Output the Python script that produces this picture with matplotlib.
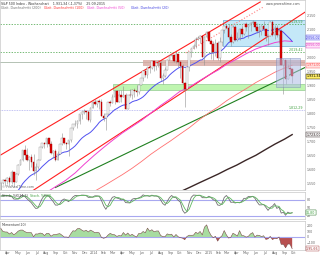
import numpy as np
import pandas as pd
import matplotlib
matplotlib.use("Agg")
import matplotlib.pyplot as plt
import matplotlib.transforms as mtrans

# weekly S&P 500 candles (first 20 weeks only feed the indicators, they sit left of the view)
weeks = pd.date_range("2012-10-19", periods=154, freq="W-FRI")

opens = [1428, 1433, 1412, 1414, 1380, 1359, 1409, 1416, 1418, 1413, 1430, 1402, 1466, 1472, 1486, 1503, 1513, 1518, 1520, 1516,
         1518, 1551, 1560, 1556, 1569, 1553, 1588, 1555, 1582, 1614, 1633, 1667, 1650, 1631, 1643, 1626, 1593, 1606, 1632, 1680,
         1692, 1691, 1710, 1691, 1656, 1664, 1633, 1655, 1688, 1710, 1692, 1691, 1703, 1745, 1760, 1762, 1771, 1798, 1804, 1806,
         1805, 1775, 1818,
         1841, 1831, 1842, 1839, 1790, 1783, 1797, 1838, 1836, 1859, 1878, 1841, 1866, 1857, 1865, 1815, 1864, 1863, 1881, 1878,
         1877, 1900, 1924, 1949, 1936, 1963, 1961, 1985, 1968, 1978, 1978, 1925, 1931, 1955, 1988, 2003, 2008, 1985, 2010, 1982,
         1967, 1906, 1886, 1964, 2018, 2032, 2039, 2064, 2068, 2075, 2002, 2071,
         2089, 2058, 2045, 2019, 2051, 1995, 2055, 2097, 2110, 2105, 2071, 2053, 2108, 2061, 2067, 2102, 2081, 2117, 2108, 2116,
         2123, 2126, 2107, 2092, 2094, 2110, 2102, 2077, 2077, 2127, 2080, 2104, 2078, 2092, 1971, 1989, 1921, 1961, 1958]
highs = [1465, 1437, 1434, 1434, 1389, 1409, 1419, 1424, 1438, 1448, 1430, 1467, 1473, 1486, 1503, 1514, 1518, 1524, 1530, 1525,
         1552, 1564, 1563, 1570, 1574, 1597, 1589, 1587, 1618, 1635, 1667, 1687, 1674, 1646, 1654, 1654, 1620, 1635, 1680, 1693,
         1698, 1710, 1710, 1699, 1669, 1670, 1664, 1689, 1730, 1711, 1698, 1704, 1745, 1760, 1775, 1774, 1798, 1808, 1813, 1806,
         1811, 1823, 1844,
         1849, 1843, 1850, 1850, 1799, 1798, 1841, 1847, 1867, 1883, 1883, 1884, 1882, 1897, 1873, 1865, 1885, 1885, 1889, 1902,
         1901, 1924, 1949, 1955, 1964, 1968, 1986, 1985, 1984, 1991, 1985, 1943, 1964, 1993, 2006, 2011, 2009, 2019, 2010, 1985,
         1977, 1912, 1965, 2018, 2034, 2046, 2071, 2076, 2079, 2077, 2077, 2094,
         2093, 2064, 2057, 2064, 2057, 2072, 2097, 2110, 2119, 2118, 2083, 2114, 2116, 2089, 2103, 2111, 2120, 2126, 2117, 2124,
         2134, 2126, 2121, 2115, 2115, 2130, 2102, 2078, 2130, 2132, 2114, 2113, 2103, 2102, 1993, 1989, 1976, 1996, 1960]
lows = [1426, 1403, 1403, 1373, 1343, 1359, 1385, 1398, 1411, 1413, 1398, 1401, 1451, 1463, 1484, 1494, 1495, 1510, 1485, 1485,
        1501, 1547, 1538, 1547, 1539, 1548, 1536, 1554, 1577, 1613, 1627, 1635, 1630, 1598, 1608, 1577, 1560, 1600, 1631, 1675,
        1676, 1680, 1684, 1654, 1639, 1628, 1633, 1655, 1685, 1688, 1670, 1646, 1698, 1740, 1752, 1746, 1760, 1780, 1797, 1779,
        1772, 1767, 1818,
        1827, 1823, 1815, 1790, 1770, 1738, 1792, 1824, 1836, 1834, 1839, 1839, 1841, 1857, 1814, 1815, 1859, 1850, 1859, 1862,
        1868, 1900, 1915, 1930, 1925, 1944, 1958, 1952, 1955, 1964, 1916, 1904, 1928, 1954, 1988, 1994, 1983, 1978, 1964, 1926,
        1905, 1821, 1886, 1951, 2001, 2030, 2034, 2062, 2050, 2002, 1972, 2069,
        2057, 1992, 1988, 2005, 1989, 1981, 2041, 2086, 2103, 2066, 2040, 2049, 2056, 2057, 2062, 2073, 2080, 2095, 2067, 2093,
        2117, 2099, 2086, 2072, 2080, 2100, 2057, 2044, 2077, 2077, 2063, 2072, 2052, 1971, 1867, 1903, 1921, 1938, 1909]
closes = [1433, 1412, 1414, 1380, 1359, 1409, 1416, 1418, 1413, 1430, 1402, 1466, 1472, 1486, 1503, 1513, 1518, 1520, 1516, 1518,
          1551, 1560, 1556, 1569, 1553, 1588, 1555, 1582, 1614, 1633, 1667, 1650, 1631, 1643, 1626, 1593, 1606, 1632, 1680, 1692,
          1691, 1710, 1691, 1656, 1664, 1633, 1655, 1688, 1710, 1692, 1691, 1703, 1745, 1760, 1762, 1771, 1798, 1804, 1806, 1805,
          1775, 1818, 1841,
          1831, 1842, 1839, 1790, 1783, 1797, 1838, 1836, 1859, 1878, 1841, 1866, 1857, 1865, 1815, 1864, 1863, 1881, 1878, 1877,
          1900, 1924, 1949, 1936, 1963, 1961, 1985, 1968, 1978, 1978, 1925, 1931, 1955, 1988, 2003, 2008, 1985, 2010, 1982, 1967,
          1906, 1886, 1964, 2018, 2032, 2039, 2064, 2068, 2075, 2002, 2071, 2089,
          2058, 2045, 2019, 2051, 1995, 2055, 2097, 2110, 2105, 2071, 2053, 2108, 2061, 2067, 2102, 2081, 2117, 2108, 2116, 2123,
          2126, 2107, 2092, 2094, 2110, 2102, 2077, 2077, 2127, 2080, 2104, 2078, 2092, 1971, 1989, 1921, 1961, 1958, 1931.34]

# long moving averages (monthly points)
gd50_dates = list(pd.date_range("2013-06-01", periods=28, freq="MS")) + [pd.Timestamp("2015-09-25")]
gd50 = [1467, 1491, 1516, 1538, 1559, 1586, 1618, 1649, 1678, 1703, 1729, 1751, 1774, 1800, 1827, 1851, 1877, 1893,
        1914, 1935, 1954, 1975, 1993, 2012, 2029, 2041, 2052, 2058, 2056]
gd100_dates = list(pd.date_range("2013-12-01", periods=22, freq="MS")) + [pd.Timestamp("2015-09-25")]
gd100 = [1498, 1520, 1540, 1559, 1580, 1602, 1627, 1653, 1677, 1700, 1724, 1748, 1775, 1800, 1822, 1845, 1867, 1887,
         1909, 1927, 1946, 1961, 1971]
gd200_dates = list(pd.date_range("2014-09-01", periods=13, freq="MS")) + [pd.Timestamp("2015-09-25")]
gd200 = [1501, 1518, 1534, 1550, 1566, 1582, 1598, 1614, 1632, 1649, 1669, 1689, 1707, 1723]

# trend lines (start/end)
upper_channel = (["2013-03-08", "2015-06-15"], [1650, 2197])
upper_dotted = (["2014-10-20", "2015-06-25"], [2015, 2179])
mid_channel = (["2013-06-11", "2015-11-11"], [1517, 2165])
green_trend = (["2013-08-30", "2015-11-11"], [1534, 1966])

# horizontal levels and zones
green_levels = [2119.59, 2019.42]
blue_level = 1812.29
grey_level = 1982
brown_zone = ("2014-06-05", 1968, 1988)
green_zone = ("2014-03-03", 1882, 1904)
blue_box = ("2015-02-16", "2015-11-05", 2039, 2132)
grey_box = ("2015-08-04", "2015-10-20", 1893, 1996)

df = pd.DataFrame({"open": opens, "high": highs, "low": lows, "close": closes}, index=weeks)
gd20 = df["close"].rolling(20).mean()
ll = df["low"].rolling(14).min()
hh = df["high"].rolling(14).max()
stoch_k = ((df["close"] - ll) / (hh - ll) * 100).rolling(3).mean()
stoch_d = stoch_k.rolling(3).mean()
mom = df["close"] - df["close"].shift(10)


def de(v, d=0):
    s = f"{v:,.{d}f}"
    return s.replace(",", "#").replace(".", ",").replace("#", ".")


xmin, xmax = pd.Timestamp("2013-03-06"), pd.Timestamp("2015-11-05")
fs = 2.3
grey = "#666666"

fig = plt.figure(figsize=(3.2, 2.56), dpi=100)
ax = fig.add_axes([0, 1 - 190 / 256, 305 / 320, 190 / 256])
ax_s = fig.add_axes([0, 1 - 219 / 256, 305 / 320, 27 / 256])
ax_m = fig.add_axes([0, 1 - 250 / 256, 305 / 320, 29 / 256])

for a in (ax, ax_s, ax_m):
    a.set_xlim(xmin, xmax)
    for sp in a.spines.values():
        sp.set_color("#c8c8c8")
        sp.set_linewidth(0.5)
    a.yaxis.tick_right()
    a.tick_params(axis="y", labelsize=fs, pad=1.5, length=0, colors=grey)
    a.tick_params(axis="x", length=0)

# ---- main panel
ax.set_ylim(1525, 2204)
price_ticks = list(range(1550, 2151, 50))
ax.set_yticks(price_ticks)
# 2.050 sits under the MA tags on the price scale
ax.set_yticklabels(["" if v == 2050 else de(v) for v in price_ticks])
ax.set_xticklabels([])

trans = mtrans.blended_transform_factory(ax.transAxes, ax.transData)

ax.axhline(grey_level, color="#a8b8a8", lw=0.6, zorder=1)
ax.fill_between([pd.Timestamp(brown_zone[0]), xmax], brown_zone[1], brown_zone[2],
                color="#d8a8a0", alpha=0.8, lw=0, zorder=1)
ax.fill_between([pd.Timestamp(green_zone[0]), xmax], green_zone[1], green_zone[2],
                facecolor="#bff5b0", edgecolor="#80c080", lw=0.4, zorder=1)
ax.fill_between([pd.Timestamp(blue_box[0]), pd.Timestamp(blue_box[1])], blue_box[2], blue_box[3],
                facecolor="#c4e8f8", edgecolor="#70aad0", lw=0.5, zorder=0.5)
ax.fill_between([pd.Timestamp(grey_box[0]), pd.Timestamp(grey_box[1])], grey_box[2], grey_box[3],
                facecolor="#aebce4", edgecolor="#7080b8", alpha=0.55, lw=0.5, zorder=4)

for lv in green_levels:
    ax.axhline(lv, color="#40a040", lw=0.5, ls=(0, (2, 2)), zorder=1)
    ax.text(0.995, lv, de(lv, 2), transform=trans, ha="right", va="bottom", fontsize=fs, color="#40a040")
ax.axhline(blue_level, color="#b0b0f0", lw=0.6, ls=(0, (1, 1)), zorder=1)
ax.text(0.995, blue_level, de(blue_level, 2), transform=trans, ha="right", va="bottom", fontsize=fs, color="#40a040")

ax.plot(pd.to_datetime(upper_channel[0]), upper_channel[1], color="#ff2020", lw=0.8, zorder=2)
ax.plot(pd.to_datetime(upper_dotted[0]), upper_dotted[1], color="#ff8080", lw=0.8, ls=":", zorder=2)
ax.plot(pd.to_datetime(mid_channel[0]), mid_channel[1], color="#ff2020", lw=0.8, zorder=2)
ax.plot(pd.to_datetime(green_trend[0]), green_trend[1], color="#208020", lw=0.8, zorder=2)

ax.plot(gd200_dates, gd200, color="#3a2626", lw=1.0, zorder=2)
ax.plot(gd100_dates, gd100, color="#ff7070", lw=0.6, zorder=2)
ax.plot(gd50_dates, gd50, color="#f040d0", lw=0.7, zorder=2)
ax.plot(weeks, gd20, color="#5050f0", lw=0.7, zorder=2)

# candles
o = np.array(opens, dtype=float)
c = np.array(closes, dtype=float)
up = c >= o
body_lo = np.minimum(o, c)
body_h = np.maximum(np.abs(c - o), 1.5)
ax.vlines(weeks, lows, highs, color="#909090", lw=0.4, zorder=3)
ax.bar(weeks[up], body_h[up], bottom=body_lo[up], width=5, color="white", edgecolor="#909090", lw=0.3, zorder=3)
ax.bar(weeks[~up], body_h[~up], bottom=body_lo[~up], width=5, color="#e00000", edgecolor="#a00000", lw=0.3, zorder=3)

# value tags on the price scale (shifted a little so they do not sit on top of each other)
tags = [(gd20.iloc[-1], 13, "#4040e0", "#e0e0ff"), (gd50[-1], -13, "#e040c0", "#ffe0f8"),
        (gd100[-1], 0, "#ff5050", "#ffe0e0"), (closes[-1], 0, "#000000", "#ffee66"), (gd200[-1], 0, "#302020", "#eeeeee")]
for val, shift, col, bg in tags:
    ax.text(1.004, val + shift, de(val, 2), transform=trans, fontsize=fs, color=col, va="center", ha="left",
            bbox=dict(boxstyle="square,pad=0.15", fc=bg, ec=col, lw=0.3), clip_on=False)

ax.text(0.005, 0.012, "© ProRealTime.com", transform=ax.transAxes, fontsize=fs, color=grey)
fig.text(0.003, 0.993, "S&P 500 Index - Wochenchart    1.931,34 (-1,37%)    25.09.2015",
         fontsize=fs, color="#333333", va="top")
legend_items = [("Gleit. Durchschnitt (200)", "#707070"), ("Gleit. Durchschnitt (100)", "#ff3030"),
                ("Gleit. Durchschnitt (50)", "#f040d0"), ("Gleit. Durchschnitt (20)", "#4040e0")]
for i, (txt, col) in enumerate(legend_items):
    fig.text(0.003 + i * 0.135, 0.978, txt, fontsize=fs, color=col, va="top")
fig.text(0.94, 0.993, "www.prorealtime.com", fontsize=fs, color="#555555", va="top", ha="right")

# ---- stochastic panel
ax_s.set_ylim(8, 110)
ax_s.set_yticks([20, 50, 80])
ax_s.set_xticklabels([])
ax_s.axhline(80, color="#a8a8f0", lw=0.8)
ax_s.axhline(20, color="#a8a8f0", lw=0.8)
ax_s.plot(weeks, stoch_k, color="#707070", lw=0.6)
ax_s.plot(weeks, stoch_d, color="#60b860", lw=0.6)
ax_s.text(0.005, 0.93, "Stoch. %K(14,3)", transform=ax_s.transAxes, fontsize=fs, color="#444444", va="top")
ax_s.text(0.1, 0.93, "Stoch. %D(3)", transform=ax_s.transAxes, fontsize=fs, color="#40a040", va="top")
tr_s = mtrans.blended_transform_factory(ax_s.transAxes, ax_s.transData)
for val, col in [(stoch_k.iloc[-1], "#606060"), (stoch_d.iloc[-1], "#40a040")]:
    ax_s.text(1.004, val, de(val, 2), transform=tr_s, fontsize=fs, color=col, va="center", ha="left",
              bbox=dict(boxstyle="square,pad=0.15", fc="white", ec=col, lw=0.3), clip_on=False)

# ---- momentum panel
ax_m.set_ylim(-217, 267)
ax_m.set_yticks([-100, 0, 100, 200])
ax_m.axhline(0, color="#a8a8f0", lw=0.8)
ax_m.fill_between(weeks, 0, mom, where=mom >= 0, interpolate=True, color="#a8dca0", lw=0)
ax_m.fill_between(weeks, 0, mom, where=mom < 0, interpolate=True, color="#b85050", lw=0)
ax_m.plot(weeks, mom, color="#7a4a4a", lw=0.4)
ax_m.text(0.005, 0.93, "Momentum(10)", transform=ax_m.transAxes, fontsize=fs, color="#444444", va="top")
tr_m = mtrans.blended_transform_factory(ax_m.transAxes, ax_m.transData)
ax_m.text(1.004, mom.iloc[-1], de(mom.iloc[-1], 2), transform=tr_m, fontsize=fs, color="#a03030", va="center",
          ha="left", bbox=dict(boxstyle="square,pad=0.15", fc="white", ec="#a03030", lw=0.3), clip_on=False)

months = pd.date_range("2013-04-01", "2015-10-01", freq="MS")
ax_m.set_xticks(months)
ax_m.set_xticklabels([str(m.year) if m.month == 1 else m.strftime("%b") for m in months])
ax_m.tick_params(axis="x", labelsize=fs, pad=1, colors=grey)

fig.savefig("out.png", dpi=100)
